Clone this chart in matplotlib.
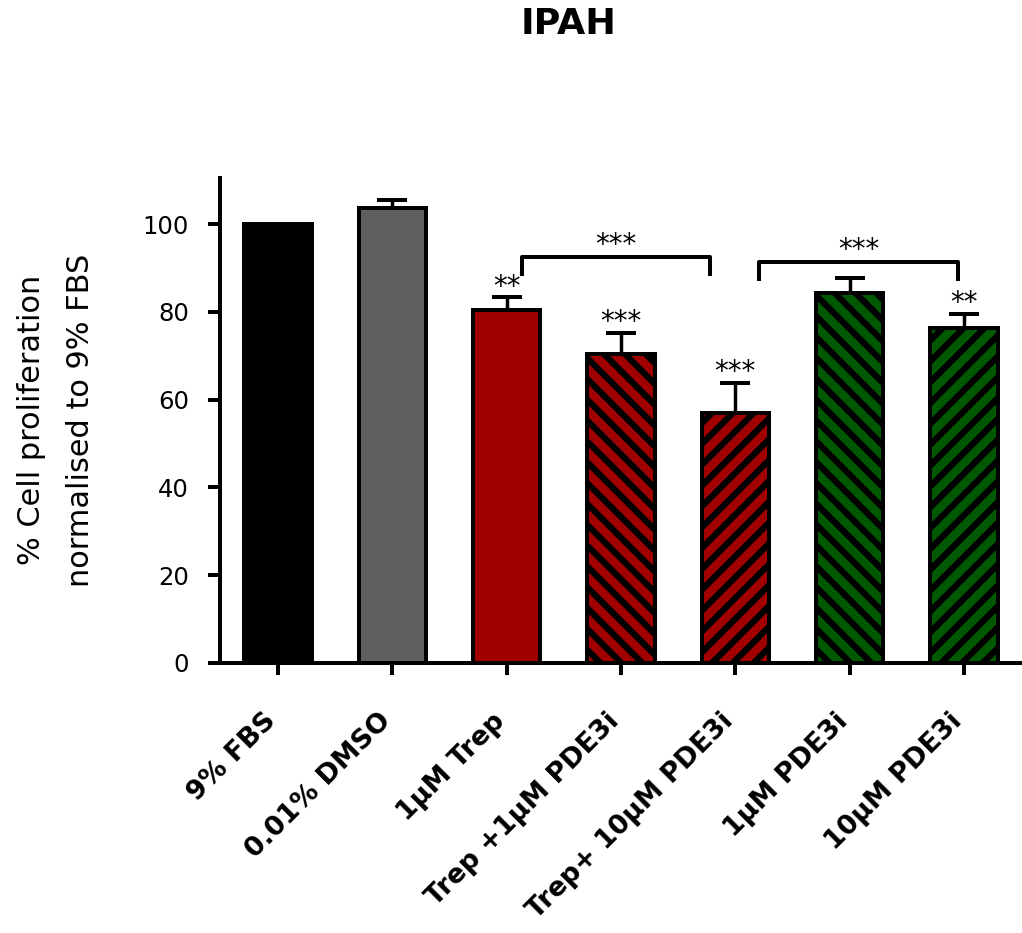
import matplotlib
matplotlib.use('Agg')
import matplotlib.pyplot as plt
import numpy as np

# values (% of 9% FBS)
groups = ['9% FBS', '0.01% DMSO', '1\u00b5M Trep', 'Trep +1\u00b5M PDE3i',
          'Trep+ 10\u00b5M PDE3i', '1\u00b5M PDE3i', '10\u00b5M PDE3i']
means = [100.0, 103.6, 80.5, 70.5, 56.9, 84.2, 76.3]
sem = [0.0, 1.9, 2.8, 4.7, 7.0, 3.5, 3.2]
stars = ['', '', '**', '***', '***', '', '**']

# significance brackets: (left, right, height, label) in category units
brackets = [(2.135, 3.78, 92.5, '***'), (4.21, 5.95, 91.4, '***')]

fills = ['#000000', '#5f5f5f', '#a00000', '#a00000', '#a00000', '#005800', '#005800']
hatches = [None, None, None, '\\\\', '//', '\\\\', '//']

plt.rcParams['hatch.linewidth'] = 3.6
plt.rcParams['hatch.color'] = 'black'

fig = plt.figure(figsize=(1023 / 125, 933 / 125), dpi=125)
ax = fig.add_axes([220 / 1023, 270 / 933, 800 / 1023, 485 / 933])

x = np.arange(len(groups))
for i in range(len(groups)):
    ax.bar(x[i], means[i], width=0.59, color=fills[i], edgecolor='black',
           linewidth=2.3, hatch=hatches[i], zorder=2)

ax.errorbar(x, means, yerr=[np.zeros(len(sem)), sem], fmt='none', ecolor='black',
            elinewidth=2.0, capsize=8.6, capthick=2.3, zorder=3)

for i in range(len(groups)):
    if stars[i]:
        ax.text(x[i], means[i] + sem[i] + 0.6, stars[i], ha='center', va='baseline',
                fontsize=16)

for xa, xb, h, lab in brackets:
    ax.plot([xa, xa, xb, xb], [h - 4.3, h, h, h - 4.3], color='black', lw=2.3,
            solid_capstyle='butt', clip_on=False)
    ax.text((xa + xb) / 2, h + 0.8, lab, ha='center', va='baseline', fontsize=16)

ax.set_xlim(-0.507, 6.49)
ax.set_ylim(0, 110.5)
ax.set_yticks([0, 20, 40, 60, 80, 100])
ax.set_xticks(x)
ax.set_xticklabels([])
# rotated category labels, ending just under each tick
for i, g in enumerate(groups):
    ax.annotate(g, xy=(x[i], 0), xycoords=('data', 'axes fraction'),
                xytext=(-8.5, -26), textcoords='offset points',
                rotation=45, rotation_mode='anchor', ha='right', va='top',
                fontsize=15.5, fontweight='bold', annotation_clip=False)
ax.tick_params(axis='y', labelsize=14, length=6.9, width=2.3, pad=11)
ax.tick_params(axis='x', length=6.9, width=2.3)

for side in ['top', 'right']:
    ax.spines[side].set_visible(False)
for side in ['left', 'bottom']:
    ax.spines[side].set_linewidth(2.3)

fig.text(56 / 1023, 1 - 420 / 933, '% Cell proliferation\nnormalised to 9% FBS',
         rotation=90, ha='center', va='center', fontsize=17.5, linespacing=1.85)
fig.text(569 / 1023, 1 - 24 / 933, 'IPAH', ha='center', va='center',
         fontsize=21, fontweight='bold')

plt.savefig('out.png', dpi=125)
